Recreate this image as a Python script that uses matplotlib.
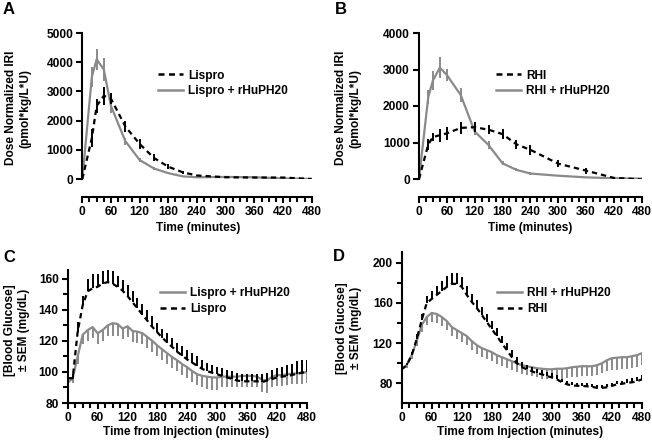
import numpy as np
import matplotlib
matplotlib.use("Agg")
import matplotlib.pyplot as plt
from matplotlib.ticker import MultipleLocator, FixedLocator

plt.rcParams['font.family'] = ['Liberation Sans', 'DejaVu Sans']
plt.rcParams['font.weight'] = 'bold'
plt.rcParams['axes.labelweight'] = 'bold'

GRAY = '#8a8a8a'
FS = 8.6

# ---- insulin (IRI) data, panels A and B ----
t_iri = [0, 20, 30, 45, 60, 90, 120, 150, 180, 210, 240, 300, 360, 420, 480]

lispro = [0, 1400, 2500, 2850, 2750, 1800, 1200, 720, 420, 230, 120, 60, 50, 50, 0]
lispro_err = [0, 300, 250, 300, 180, 200, 180, 120, 80, 50, 30, 20, 20, 15, 10]
lispro_ph = [0, 3500, 4100, 3750, 2500, 1300, 650, 360, 200, 90, 60, 70, 60, 20, 0]
lispro_ph_err = [0, 350, 350, 400, 250, 120, 80, 60, 40, 20, 15, 15, 10, 10, 5]

rhi = [0, 950, 1150, 1200, 1250, 1400, 1420, 1350, 1230, 950, 800, 420, 230, 30, -10]
rhi_err = [0, 150, 120, 180, 180, 170, 130, 120, 130, 130, 140, 100, 80, 20, 10]
rhi_ph = [0, 2250, 2700, 3050, 2850, 2300, 1300, 930, 430, 250, 150, 90, 45, 20, 10]
rhi_ph_err = [0, 200, 250, 280, 170, 200, 100, 100, 60, 40, 30, 20, 15, 10, 5]

# ---- blood glucose data, panels C and D (every 10 min) ----
t_bg = list(range(0, 481, 10))

bg_lispro = [96, 96, 126, 143, 152, 154, 155, 157, 158, 157,
             155, 152.5, 149, 145, 141, 137, 133, 129, 125.5, 122,
             119, 116, 113, 110.5, 108, 106, 104, 102, 100.5, 99.5,
             98.5, 97.5, 96.5, 95.5, 94.5, 94, 94, 94, 94, 93.5,
             94.5, 95.5, 96.5, 97, 97.5, 98, 99, 99.5, 100]
bg_lispro_err = [3, 3, 6, 6, 8, 9, 8, 8, 8, 8,
                 7, 7, 7, 7, 7, 7, 7, 7, 6, 6,
                 6, 6, 6, 6, 6, 6, 6, 6, 5, 5,
                 5, 5, 5, 5, 5, 5, 5, 5, 5, 5,
                 5, 6, 6, 6, 7, 7, 8, 8, 8]
bg_lispro_ph = [93, 96, 110, 124, 127, 129, 125, 127, 130, 131.5,
                131, 128, 129.5, 126.5, 126, 125, 122.5, 120, 117, 114.5,
                112, 109.5, 107.5, 105, 103, 100.5, 98.5, 97.5, 97, 96.5,
                96.5, 97, 97, 97, 97, 97.5, 97.5, 97.5, 97, 95,
                94.5, 97, 98, 98, 98.5, 99, 99, 99.5, 100]
bg_lispro_ph_err = [3, 3, 5, 6, 7, 7, 7, 7, 7, 8,
                    8, 7, 7, 7, 7, 7, 7, 7, 7, 7,
                    7, 7, 7, 7, 7, 7, 7, 7, 8, 8,
                    8, 7, 7, 7, 7, 7, 7, 7, 7, 8,
                    8, 7, 7, 7, 7, 7, 7, 7, 7]

bg_rhi = [94, 98, 108, 124, 143, 160, 164, 168, 172, 176,
          179, 179, 176, 168, 161, 155, 148, 141, 134, 127,
          120, 113, 106, 100, 96, 94, 92, 90, 89, 87,
          86, 84, 81, 79, 78, 77.5, 77.5, 77, 76.5, 75.5,
          75.5, 76, 77.5, 79, 79.5, 80.5, 81, 82, 84]
bg_rhi_err = [2, 2, 3, 5, 6, 7, 8, 9, 10, 11,
              11, 11, 10, 9, 8, 8, 8, 8, 8, 8,
              7, 7, 7, 6, 5, 4, 4, 4, 4, 4,
              4, 4, 3, 3, 3, 3, 3, 3, 3, 3,
              3, 3, 3, 3, 3, 4, 4, 4, 4]
bg_rhi_ph = [94, 98, 108, 122, 138, 146, 150, 149, 146, 142,
             136, 133, 130, 127, 122, 118, 115, 113, 111, 108,
             106, 104, 102, 100, 98, 97, 96, 95, 94.5, 94,
             94, 94.5, 94.5, 95, 96, 96.5, 97, 97, 97, 98,
             100, 103, 105, 105.5, 106, 106, 107, 108, 110]
bg_rhi_ph_err = [2, 3, 4, 5, 7, 8, 9, 9, 9, 9,
                 9, 9, 9, 9, 9, 9, 9, 9, 9, 9,
                 9, 9, 9, 9, 9, 9, 9, 9, 10, 10,
                 10, 10, 10, 10, 10, 10, 10, 10, 10, 10,
                 10, 11, 12, 12, 12, 12, 12, 12, 12]

fig = plt.figure(figsize=(6.52, 4.42), dpi=100)
W, H = 652.0, 442.0


def add_axes(x0, x1, ytop, ybot):
    return fig.add_axes([x0 / W, 1 - ybot / H, (x1 - x0) / W, (ybot - ytop) / H])


def style(ax, xoffset=0):
    for s in ['top', 'right']:
        ax.spines[s].set_visible(False)
    for s in ['left', 'bottom']:
        ax.spines[s].set_linewidth(1.5)
    if xoffset:
        ax.spines['bottom'].set_position(('outward', xoffset))
    ax.set_xlim(0, 480)
    ax.xaxis.set_major_locator(MultipleLocator(60))
    ax.xaxis.set_minor_locator(MultipleLocator(15))
    ax.tick_params(which='major', direction='out', length=4.5, width=1.5, labelsize=FS, pad=2)
    ax.tick_params(which='minor', direction='out', length=3.5, width=1.5)
    ax.tick_params(axis='y', which='minor', length=3.5)
    for lab in ax.get_xticklabels() + ax.get_yticklabels():
        lab.set_fontweight('bold')


def plot_err(ax, t, y, e, color, dashed, side):
    if side == 'up':
        yerr = [np.zeros(len(e)), e]
    elif side == 'down':
        yerr = [e, np.zeros(len(e))]
    else:
        yerr = e
    ls = (0, (2.4, 1.8)) if dashed else '-'
    ax.errorbar(t, y, yerr=yerr, color=color, ls=ls, lw=1.6,
                elinewidth=1.4, capsize=0, zorder=3 if dashed else 2)


def legend(ax, handles_labels, xh, ymid):
    hs = [h for h, _ in handles_labels]
    ls = [l for _, l in handles_labels]
    ax.legend(hs, ls, loc='center left', bbox_to_anchor=(xh / W, 1 - ymid / H),
              bbox_transform=fig.transFigure, frameon=False, fontsize=FS,
              handlelength=2.1, handletextpad=0.45, labelspacing=0.32,
              borderpad=0, borderaxespad=0, prop={'weight': 'bold', 'size': FS})


def line_handle(color, dashed):
    from matplotlib.lines import Line2D
    return Line2D([], [], color=color, lw=1.8,
                  ls=(0, (2.4, 1.8)) if dashed else '-')


# ---- Panel A ----
axA = add_axes(82.3, 311.7, 33, 179)
plot_err(axA, t_iri, lispro_ph, lispro_ph_err, GRAY, False, 'both')
plot_err(axA, t_iri, lispro, lispro_err, 'black', True, 'both')
axA.set_ylim(0, 5000)
axA.yaxis.set_major_locator(MultipleLocator(1000))
style(axA, xoffset=13)
legend(axA, [(line_handle('black', True), 'Lispro'),
             (line_handle(GRAY, False), 'Lispro + rHuPH20')], 158, 83.5)

# ---- Panel B ----
axB = add_axes(419, 641.7, 33, 179)
plot_err(axB, t_iri, rhi_ph, rhi_ph_err, GRAY, False, 'both')
plot_err(axB, t_iri, rhi, rhi_err, 'black', True, 'both')
axB.set_ylim(0, 4000)
axB.yaxis.set_major_locator(MultipleLocator(1000))
style(axB, xoffset=13)
legend(axB, [(line_handle('black', True), 'RHI'),
             (line_handle(GRAY, False), 'RHI + rHuPH20')], 495.5, 83.5)

# ---- Panel C ----
axC = add_axes(67.7, 307, 270, 403)
plot_err(axC, t_bg, bg_lispro_ph, bg_lispro_ph_err, GRAY, False, 'down')
plot_err(axC, t_bg, bg_lispro, bg_lispro_err, 'black', True, 'up')
axC.set_ylim(80, 165.8)
axC.yaxis.set_major_locator(FixedLocator([80, 100, 120, 140, 160]))
axC.yaxis.set_minor_locator(MultipleLocator(10))
style(axC)
legend(axC, [(line_handle(GRAY, False), 'Lispro + rHuPH20'),
             (line_handle('black', True), 'Lispro')], 160, 301)

# ---- Panel D ----
axD = add_axes(401.7, 642, 251.7, 402.7)
plot_err(axD, t_bg, bg_rhi_ph, bg_rhi_ph_err, GRAY, False, 'down')
plot_err(axD, t_bg, bg_rhi, bg_rhi_err, 'black', True, 'up')
axD.set_ylim(60.7, 211)
axD.yaxis.set_major_locator(FixedLocator([80, 120, 160, 200]))
axD.yaxis.set_minor_locator(FixedLocator([100, 140, 180]))
style(axD)
legend(axD, [(line_handle(GRAY, False), 'RHI + rHuPH20'),
             (line_handle('black', True), 'RHI')], 496.5, 301)

# ---- text labels ----
def ftext(x, y, s, **kw):
    fig.text(x / W, 1 - y / H, s, fontweight='bold', **kw)

ftext(3, 9.5, 'A', fontsize=12, ha='left', va='center')
ftext(335, 9.5, 'B', fontsize=12, ha='left', va='center')
ftext(3, 257, 'C', fontsize=12, ha='left', va='center')
ftext(333, 256.5, 'D', fontsize=12, ha='left', va='center')

ylab_kw = dict(fontsize=FS, rotation=90, ha='center', va='center', multialignment='center')
ftext(18, 108, 'Dose Normalized IRI\n(pmol*kg/L*U)', **ylab_kw)
ftext(348, 108, 'Dose Normalized IRI\n(pmol*kg/L*U)', **ylab_kw)
ftext(17, 330, '[Blood Glucose]\n\u00b1 SEM (mg/dL)', **ylab_kw)
ftext(349, 328, '[Blood Glucose]\n\u00b1 SEM (mg/dL)', **ylab_kw)

ftext(198, 228, 'Time (minutes)', fontsize=FS, ha='center', va='center')
ftext(530, 228, 'Time (minutes)', fontsize=FS, ha='center', va='center')
ftext(186, 432, 'Time from Injection (minutes)', fontsize=FS, ha='center', va='center')
ftext(520, 432, 'Time from Injection (minutes)', fontsize=FS, ha='center', va='center')

fig.savefig('out.png', dpi=100)
